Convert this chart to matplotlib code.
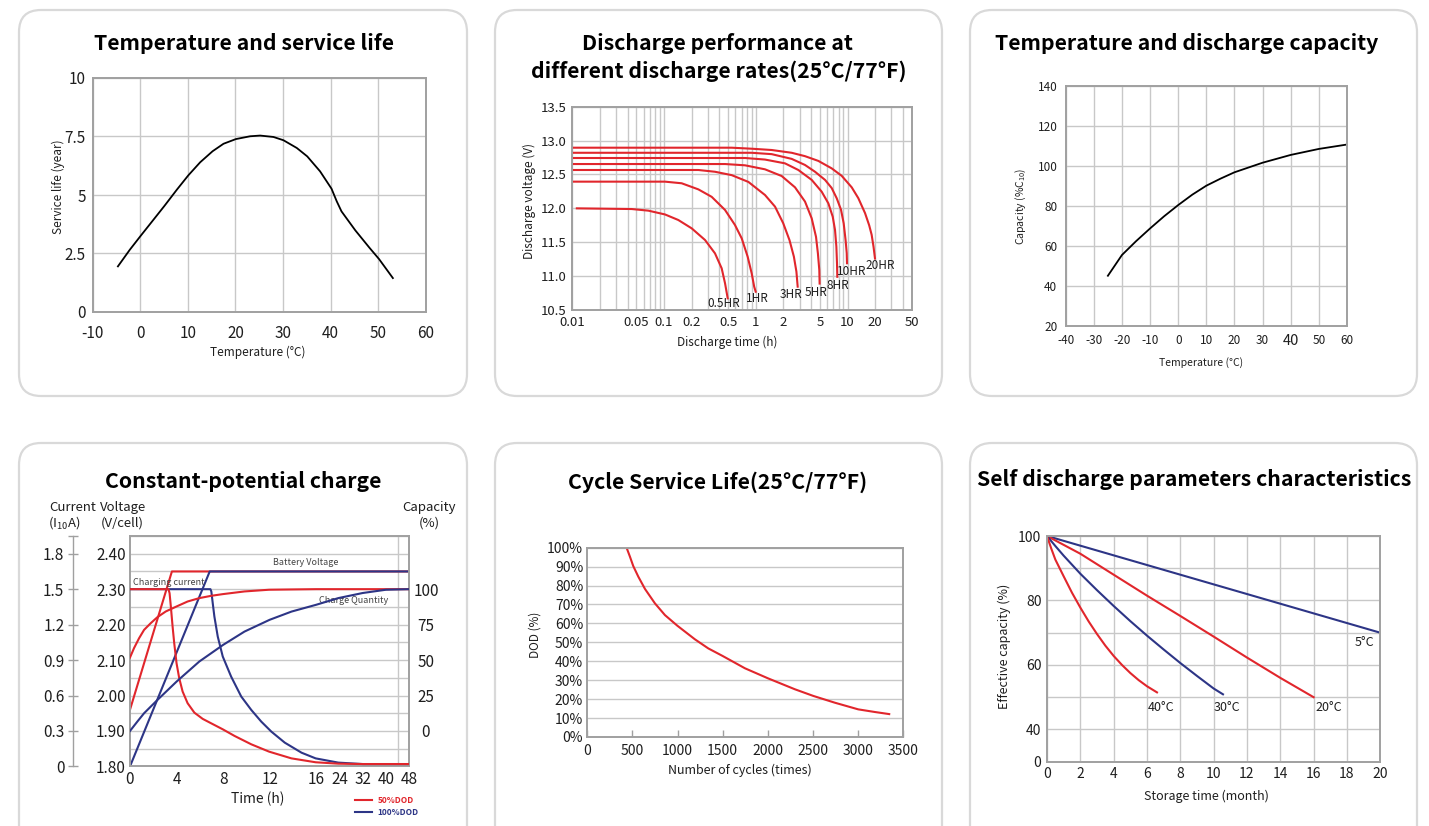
import numpy as np
import matplotlib
matplotlib.use('Agg')
import matplotlib.pyplot as plt
from matplotlib.patches import FancyBboxPatch
from matplotlib.transforms import IdentityTransform
from matplotlib.ticker import FixedLocator, NullFormatter, LogLocator

plt.rcParams['font.family'] = ['Noto Sans CJK SC', 'DejaVu Sans']
plt.rcParams['mathtext.fontset'] = 'custom'
plt.rcParams['mathtext.rm'] = 'Noto Sans CJK SC'
plt.rcParams['mathtext.it'] = 'Noto Sans CJK SC'
plt.rcParams['axes.unicode_minus'] = False

W, H = 1429, 826
RED = '#e1262c'
BLUE = '#2d3586'
GRID = '#c8c8c8'
SPINE = '#a0a0a0'
INK = '#1e1e1e'

# --- temperature vs service life
life_temp = [-4.7, -2.2, 0.1, 2.8, 5.1, 7.7, 10.1, 12.6, 15.2, 17.5, 20.1, 23.1, 25.2, 28,
             30.1, 32.9, 35.1, 37.8, 40.2, 41.3, 42.3, 45.2, 48.2, 50.2, 53.1]
life_years = [1.95, 2.66, 3.26, 3.95, 4.54, 5.23, 5.84, 6.40, 6.87, 7.19, 7.39, 7.51, 7.54, 7.48,
              7.34, 7.01, 6.65, 6.01, 5.27, 4.73, 4.30, 3.49, 2.74, 2.26, 1.45]

# --- discharge curves (time h, voltage V)
rate_names = ['0.5HR', '1HR', '3HR', '5HR', '8HR', '10HR', '20HR']
dis_t_05 = [0.0112, 0.0444, 0.0674, 0.1024, 0.143, 0.2, 0.2796, 0.359, 0.4246, 0.462, 0.494]
dis_v_05 = [12.0, 11.99, 11.966, 11.91, 11.828, 11.705, 11.533, 11.336, 11.115, 10.894, 10.672]
dis_t_1 = [0.01, 0.1024, 0.1556, 0.2365, 0.3304, 0.462, 0.593, 0.702, 0.815, 0.902, 0.96, 0.997]
dis_v_1 = [12.394, 12.394, 12.37, 12.28, 12.17, 11.976, 11.754, 11.557, 11.287, 11.04, 10.844, 10.77]
dis_t_3 = [0.01, 0.2365, 0.359, 0.546, 0.83, 1.259, 1.62, 1.99, 2.33, 2.6, 2.77, 2.86]
dis_v_3 = [12.566, 12.566, 12.54, 12.49, 12.39, 12.197, 12.025, 11.78, 11.53, 11.287, 11.066, 10.844]
dis_t_5 = [0.01, 0.462, 0.763, 1.259, 1.914, 2.675, 3.437, 4.064, 4.53, 4.75, 4.92, 4.96]
dis_v_5 = [12.654, 12.654, 12.635, 12.576, 12.477, 12.31, 12.10, 11.853, 11.58, 11.336, 11.09, 10.89]
dis_t_8 = [0.01, 0.763, 1.259, 2.08, 2.908, 4.064, 5.223, 6.175, 6.89, 7.3, 7.55, 7.67, 7.73]
dis_v_8 = [12.743, 12.743, 12.72, 12.664, 12.566, 12.42, 12.246, 12.074, 11.877, 11.68, 11.435, 11.19, 10.99]
dis_t_10 = [0.01, 0.902, 1.489, 2.46, 3.437, 4.418, 5.679, 6.714, 7.61, 8.48, 9.07, 9.52, 9.79, 9.86]
dis_v_10 = [12.82, 12.82, 12.80, 12.73, 12.64, 12.54, 12.42, 12.30, 12.15, 11.98, 11.78, 11.53, 11.34, 11.19]
dis_t_20 = [0.01, 0.546, 0.902, 1.489, 2.46, 3.437, 4.804, 6.714, 8.63, 11.1, 13.1, 15.5, 17.2, 18.3, 19.2, 19.9]
dis_v_20 = [12.895, 12.895, 12.88, 12.861, 12.82, 12.77, 12.70, 12.59, 12.48, 12.31, 12.15, 11.93, 11.75,
            11.61, 11.43, 11.26]
rate_label_t = [0.45, 1.03, 2.4, 4.5, 7.9, 11.1, 22.6]
rate_label_v = [10.6, 10.67, 10.73, 10.76, 10.86, 11.07, 11.15]
dis_ticks = [0.01, 0.05, 0.1, 0.2, 0.5, 1, 2, 5, 10, 20, 50]
dis_tick_labels = ['0.01', '0.05', '0.1', '0.2', '0.5', '1', '2', '5', '10', '20', '50']

# --- temperature vs capacity
cap_temp = [-25, -20, -15, -10, -5, 0, 5, 10, 15, 20, 30, 40, 50, 60]
cap_pct = [45, 55.4, 62.3, 68.7, 74.8, 80.4, 85.6, 90.1, 93.6, 96.8, 101.6, 105.5, 108.5, 110.7]

# --- constant-potential charge (time h)
v50_t = [0, 3.6, 48]
v50_v = [1.96, 2.35, 2.35]
v100_t = [0, 6.85, 48]
v100_v = [1.80, 2.35, 2.35]
i50_t = [0, 3.31, 3.40, 3.51, 3.66, 3.80, 4.0, 4.23, 4.52, 4.95, 5.53, 6.25, 6.97, 7.97, 8.98,
         10.42, 11.95, 13.87, 15.95, 23.6, 32, 48]
i50_a = [1.5, 1.5, 1.466, 1.353, 1.184, 1.043, 0.873, 0.746, 0.634, 0.535, 0.455, 0.402, 0.365,
         0.314, 0.258, 0.187, 0.125, 0.068, 0.035, 0.023, 0.02, 0.02]
i100_t = [0, 6.91, 6.99, 7.11, 7.25, 7.54, 7.97, 8.69, 9.56, 10.42, 11.28, 12.15, 13.3, 14.74,
          15.95, 23.6, 32, 48]
i100_a = [1.5, 1.5, 1.48, 1.381, 1.269, 1.099, 0.93, 0.76, 0.591, 0.478, 0.379, 0.294, 0.201,
          0.116, 0.068, 0.032, 0.02, 0.02]
q50_t = [0, 0.345, 0.78, 1.21, 1.78, 2.36, 3.08, 4.0, 4.95, 5.96, 6.97, 7.97, 9.84, 11.95, 13.87, 16, 48]
q50_p = [51.8, 58.4, 65.4, 71.3, 76.0, 80.3, 84.3, 87.8, 91.3, 93.7, 95.3, 96.5, 98.4, 99.6, 99.8, 100, 100]
q100_t = [0, 0.63, 1.21, 2.36, 4, 5.96, 8, 9.84, 12, 13.88, 16, 23.6, 32, 40, 48]
q100_p = [0, 6.6, 12.5, 21.9, 34.8, 49, 60.7, 70.1, 78.4, 84.2, 89, 93.7, 97.3, 99.6, 100]
time_ticks = [0, 4, 8, 12, 16, 24, 32, 40, 48]
time_grid = [4, 8, 12, 16, 32, 40, 44]

# --- cycle life
cyc_n = [435, 472, 509, 565, 639, 749, 860, 997, 1192, 1340, 1499, 1746, 2001, 2300, 2503, 2743,
         3001, 3186, 3344]
cyc_dod = [100, 95.3, 90.3, 84.7, 78.2, 70.6, 64.4, 58.8, 51.6, 46.8, 42.8, 36.3, 31.0, 25.2, 21.7,
           18.1, 14.6, 13.2, 12.1]

# --- self discharge (month, %)
sd_t_5 = [0, 10, 20]
sd_c_5 = [100, 85, 70]
sd_t_20 = [0, 2, 4, 6, 8, 10, 12, 14, 16]
sd_c_20 = [100, 94.5, 88, 81.5, 75.2, 68.8, 62.3, 56, 50]
sd_t_30 = [0, 0.5, 1, 2, 3, 4, 5, 6, 7, 8, 9, 10, 10.56]
sd_c_30 = [100, 96.9, 93.9, 88.3, 83.2, 78.3, 73.6, 69.1, 64.8, 60.6, 56.6, 52.7, 50.9]
sd_t_40 = [0, 0.25, 0.5, 1, 1.5, 2, 2.5, 3, 3.5, 4, 4.5, 5, 5.5, 6, 6.6]
sd_c_40 = [100, 96.2, 92.7, 87.5, 82.4, 77.8, 73.5, 69.6, 66.0, 62.8, 60.0, 57.5, 55.3, 53.4, 51.5]
sd_names = ['5°C', '20°C', '30°C', '40°C']
sd_label_t = [19.05, 16.9, 10.77, 6.84]
sd_label_c = [67.1, 46.7, 46.7, 46.7]


fig = plt.figure(figsize=(W / 100, H / 100), dpi=100)


def card(x0, y0, x1, y1):
    fig.add_artist(FancyBboxPatch((x0, H - y1), x1 - x0, y1 - y0,
                                  boxstyle='round,pad=0,rounding_size=22',
                                  transform=IdentityTransform(), fc='white',
                                  ec='#d9d9d9', lw=1.6, zorder=-5))


def box_axes(l, t, r, b):
    ax = fig.add_axes([l / W, 1 - b / H, (r - l) / W, (b - t) / H])
    for s in ax.spines.values():
        s.set_color(SPINE)
        s.set_linewidth(1.4)
    ax.set_axisbelow(True)
    ax.tick_params(which='both', length=0, colors=INK)
    return ax


def ftext(x, y, s, **kw):
    kw.setdefault('ha', 'center')
    kw.setdefault('va', 'center')
    kw.setdefault('color', INK)
    fig.text(x / W, 1 - y / H, s, **kw)


def title(x, y, s):
    ftext(x, y, s, fontsize=15.3, fontweight='bold', color='black')


for cx0, cx1 in [(19, 467), (495, 942), (970, 1417)]:
    card(cx0, 10, cx1, 396)
    card(cx0, 443, cx1, 870)

# panel 1
ax1 = box_axes(92.7, 78, 425.7, 312)
ax1.plot(life_temp, life_years, color='black', lw=1.3)
ax1.set_xlim(-10, 60)
ax1.set_ylim(0, 10)
ax1.set_xticks(range(-10, 61, 10))
ax1.set_yticks([0, 2.5, 5, 7.5, 10])
ax1.set_yticklabels(['0', '2.5', '5', '7.5', '10'])
ax1.grid(color=GRID, lw=1)
ax1.tick_params(labelsize=11, pad=5)
ax1.tick_params(axis='x', pad=9)
title(243.5, 43, 'Temperature and service life')
ftext(258, 352, 'Temperature (°C)', fontsize=8.5)
ftext(58, 187, 'Service life (year)', fontsize=8.5, rotation=90)

# panel 2
ax2 = box_axes(572.3, 106.7, 911.7, 310)
ax2.set_xscale('log')
for tt, vv in [(dis_t_05, dis_v_05), (dis_t_1, dis_v_1), (dis_t_3, dis_v_3), (dis_t_5, dis_v_5),
               (dis_t_8, dis_v_8), (dis_t_10, dis_v_10), (dis_t_20, dis_v_20)]:
    ax2.plot(tt, vv, color=RED, lw=1.5, solid_joinstyle='round')
for name, lt, lv in zip(rate_names, rate_label_t, rate_label_v):
    ax2.text(lt, lv, name, fontsize=8.5, ha='center', va='center', color=INK)
ax2.set_xlim(0.01, 50)
ax2.set_ylim(10.5, 13.5)
ax2.xaxis.set_major_locator(FixedLocator(dis_ticks))
ax2.set_xticklabels(dis_tick_labels)
ax2.xaxis.set_minor_locator(LogLocator(base=10, subs=np.arange(2, 10), numticks=20))
ax2.xaxis.set_minor_formatter(NullFormatter())
ax2.set_yticks(np.arange(10.5, 13.51, 0.5))
ax2.set_yticklabels(['%.1f' % v for v in np.arange(10.5, 13.51, 0.5)])
ax2.grid(which='both', color=GRID, lw=1)
ax2.tick_params(which='both', labelsize=9.5, pad=4)
title(717, 44, 'Discharge performance at')
title(719, 71, 'different discharge rates(25°C/77°F)')
ftext(529, 201, 'Discharge voltage (V)', fontsize=8.5, rotation=90)
ftext(727.5, 342, 'Discharge time (h)', fontsize=8.5)

# panel 3
ax3 = box_axes(1065.7, 86, 1347, 325.7)
ax3.plot(cap_temp, cap_pct, color='black', lw=1.3)
ax3.set_xlim(-40, 60)
ax3.set_ylim(20, 140)
ax3.set_xticks(range(-40, 61, 10))
ax3.set_yticks(range(20, 141, 20))
ax3.grid(color=GRID, lw=1)
ax3.tick_params(labelsize=8.5, pad=6)
for lbl in ax3.get_xticklabels():
    if lbl.get_text() == '40':
        lbl.set_fontsize(10.5)
title(1186.5, 43, 'Temperature and discharge capacity')
ftext(1021, 206.7, 'Capacity (%C$_{10}$)', fontsize=7.5, rotation=90)
ftext(1201.5, 362.3, 'Temperature (°C)', fontsize=7.5)


# panel 4
def t_fwd(t):
    t = np.asarray(t, dtype=float)
    return np.where(t <= 16, t, 16 + (t - 16) / 4)


def t_inv(p):
    p = np.asarray(p, dtype=float)
    return np.where(p <= 16, p, 16 + (p - 16) * 4)


ax4 = box_axes(130, 536, 409.3, 766.4)
ax4.set_xscale('function', functions=(t_fwd, t_inv))
ax4.set_xlim(0, 48)
ax4.set_ylim(1.80, 2.45)
ax4.set_xticks(time_ticks)
ax4.set_xticklabels([str(t) for t in time_ticks])
ax4.xaxis.set_minor_locator(FixedLocator(time_grid))
ax4.xaxis.set_minor_formatter(NullFormatter())
ax4.set_yticks(np.arange(1.80, 2.401, 0.1))
ax4.set_yticklabels(['%.2f' % v for v in np.arange(1.80, 2.401, 0.1)])
ax4.yaxis.set_minor_locator(FixedLocator(np.arange(1.85, 2.45, 0.1)))
ax4.grid(axis='y', which='both', color=GRID, lw=1)
ax4.grid(axis='x', which='minor', color=GRID, lw=1)
ax4.tick_params(which='both', labelsize=11, pad=3)
ax4.plot(v50_t, v50_v, color=RED, lw=1.5)
ax4.plot(v100_t, v100_v, color=BLUE, lw=1.5)
ax4.text(15.1, 2.375, 'Battery Voltage', fontsize=6.5, color='#444444', ha='center', va='center')
ax4.text(0.28, 2.32, 'Charging current', fontsize=6.5, color='#444444', ha='left', va='center')
ax4.text(28.8, 2.268, 'Charge Quantity', fontsize=6.5, color='#444444', ha='center', va='center')

axc = ax4.twinx()
axc.set_ylim(0, 1.95)
axc.yaxis.set_ticks_position('left')
for k in ['top', 'right', 'bottom']:
    axc.spines[k].set_visible(False)
axc.spines['left'].set_position(('axes', -56.7 / 279.3))
axc.spines['left'].set_color(SPINE)
axc.spines['left'].set_linewidth(1)
axc.set_yticks([0, 0.3, 0.6, 0.9, 1.2, 1.5, 1.8, 1.95])
axc.set_yticklabels(['0', '0.3', '0.6', '0.9', '1.2', '1.5', '1.8', ''])
axc.tick_params(axis='y', direction='inout', length=7, width=1, color=SPINE,
                labelcolor=INK, labelsize=11, pad=3)
l100, = axc.plot(i100_t, i100_a, color=BLUE, lw=1.5)
l50, = axc.plot(i50_t, i50_a, color=RED, lw=1.5)

axq = ax4.twinx()
axq.set_ylim(-25, 137.5)
for s in axq.spines.values():
    s.set_visible(False)
axq.set_yticks([0, 25, 50, 75, 100])
axq.tick_params(axis='y', length=0, labelsize=11, pad=12, labelcolor=INK)
for lbl in axq.get_yticklabels():
    lbl.set_ha('center')
axq.plot(q50_t, q50_p, color=RED, lw=1.5)
axq.plot(q100_t, q100_p, color=BLUE, lw=1.5)

title(243, 481.7, 'Constant-potential charge')
ftext(73, 507.7, 'Current', fontsize=9.5)
ftext(64, 523, '(I$_{10}$A)', fontsize=9.5)
ftext(123, 507.7, 'Voltage', fontsize=9.5)
ftext(122.5, 523, '(V/cell)', fontsize=9.5)
ftext(429, 507.7, 'Capacity', fontsize=9.5)
ftext(429.5, 523, '(%)', fontsize=9.5)
ftext(258, 799.3, 'Time (h)', fontsize=10)
fig.legend(handles=[l50, l100], labels=['50%DOD', '100%DOD'], loc='upper left',
           bbox_to_anchor=(355 / W, 1 - 796 / H), frameon=False, borderpad=0,
           borderaxespad=0, handlelength=2.0, handletextpad=0.7, labelspacing=0.35,
           prop={'size': 6, 'weight': 'bold'}, labelcolor='linecolor')

# panel 5
ax5 = box_axes(587.3, 547.7, 903.3, 737)
ax5.plot(cyc_n, cyc_dod, color=RED, lw=1.5)
ax5.set_xlim(0, 3500)
ax5.set_ylim(0, 100)
ax5.set_xticks(range(0, 3501, 500))
ax5.set_yticks(range(0, 101, 10))
ax5.set_yticklabels(['%d%%' % v for v in range(0, 101, 10)])
ax5.grid(axis='y', color=GRID, lw=1)
ax5.tick_params(labelsize=10, pad=3)
ax5.tick_params(axis='x', direction='in', length=5, width=1, color=SPINE, pad=5)
title(718, 481.7, 'Cycle Service Life(25°C/77°F)')
ftext(535, 635, 'DOD (%)', fontsize=8.5, rotation=90)
ftext(740, 770, 'Number of cycles (times)', fontsize=9)

# panel 6
ax6 = box_axes(1047, 536, 1380.3, 761.7)
ax6.plot(sd_t_5, sd_c_5, color=BLUE, lw=1.5)
ax6.plot(sd_t_20, sd_c_20, color=RED, lw=1.5)
ax6.plot(sd_t_30, sd_c_30, color=BLUE, lw=1.5)
ax6.plot(sd_t_40, sd_c_40, color=RED, lw=1.5)
for name, lt, lc in zip(sd_names, sd_label_t, sd_label_c):
    ax6.text(lt, lc, name, fontsize=9, ha='center', va='center', color=INK)
ax6.set_xlim(0, 20)
ax6.set_ylim(30, 100)
ax6.set_xticks(range(0, 21, 2))
ax6.set_yticks([30, 40, 60, 80, 100])
ax6.set_yticklabels(['0', '40', '60', '80', '100'])
ax6.yaxis.set_minor_locator(FixedLocator([50, 70, 90]))
ax6.grid(which='both', color=GRID, lw=1)
ax6.tick_params(which='both', labelsize=10, pad=4)
title(1194, 480, 'Self discharge parameters characteristics')
ftext(1004, 646, 'Effective capacity (%)', fontsize=9, rotation=90)
ftext(1206, 796, 'Storage time (month)', fontsize=9)

fig.savefig('out.png', dpi=100)
